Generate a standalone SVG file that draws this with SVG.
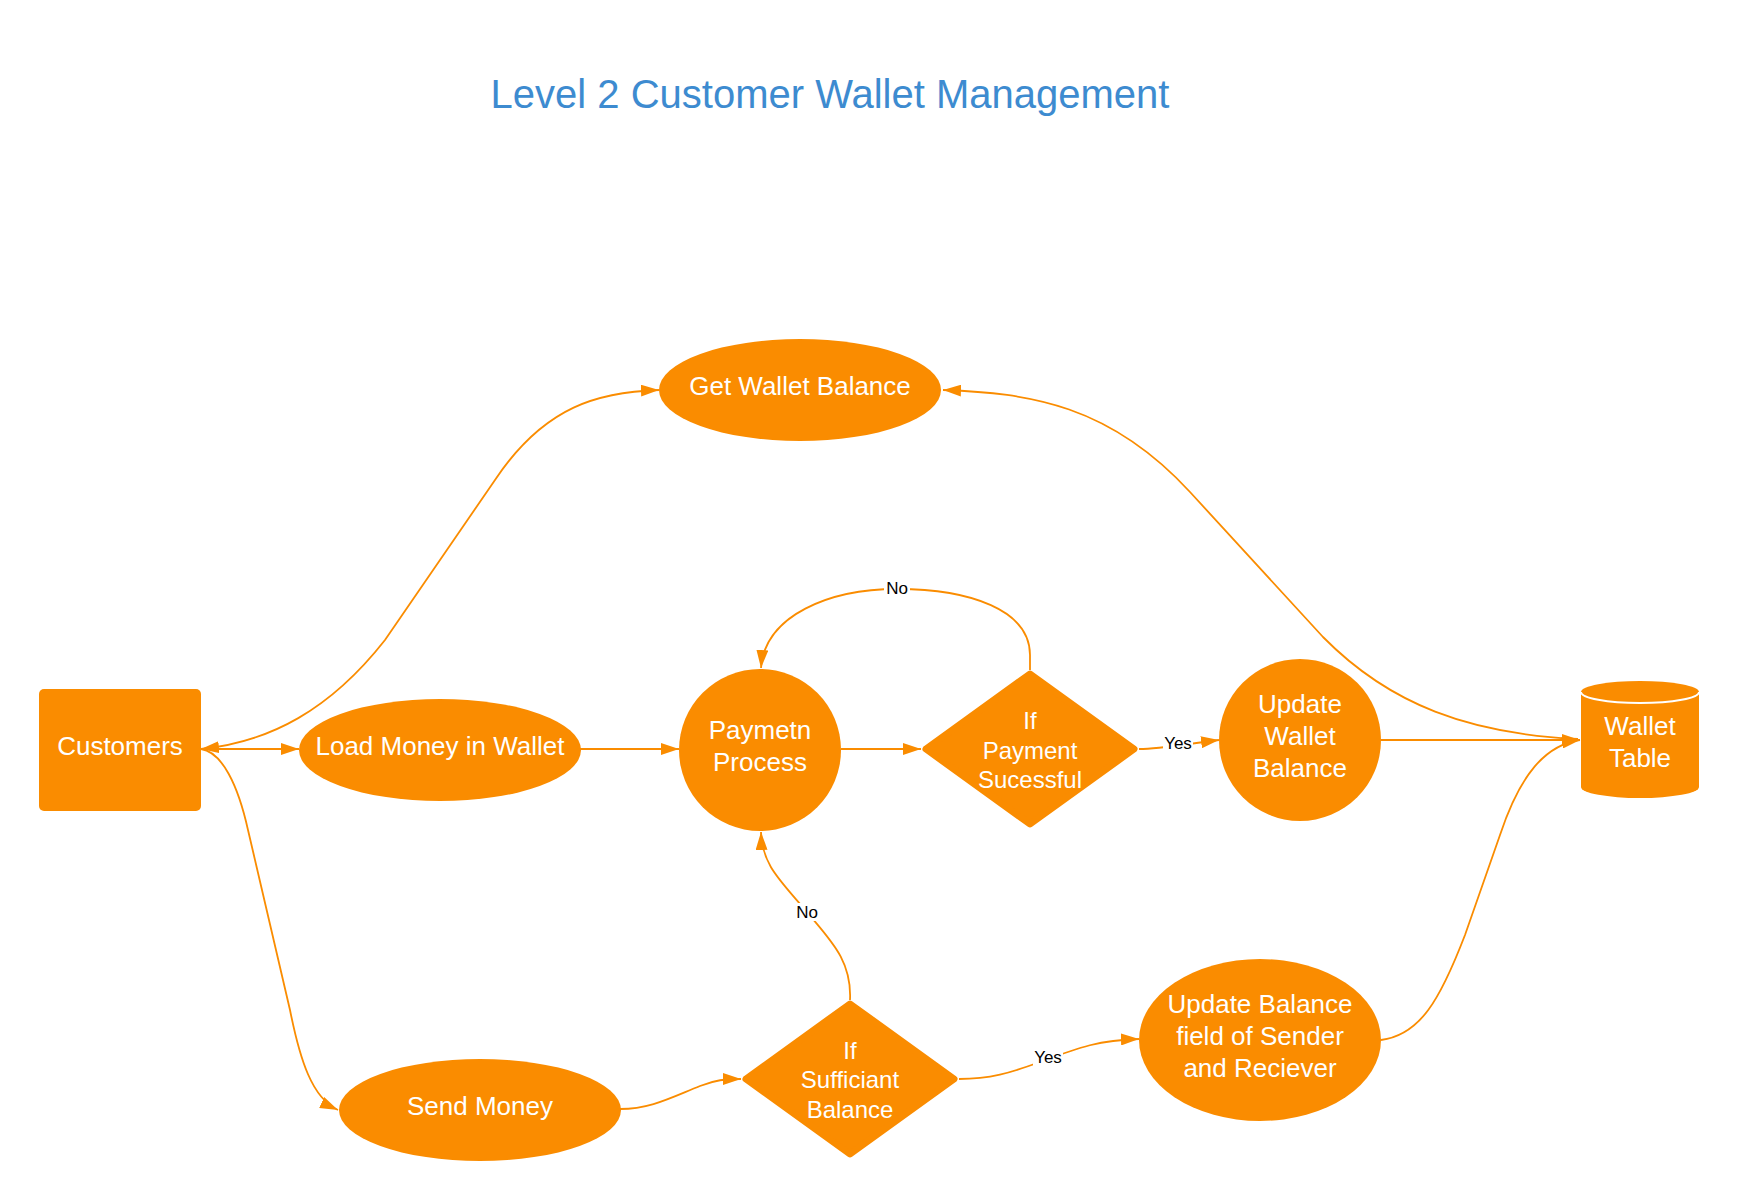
<svg xmlns="http://www.w3.org/2000/svg" width="1740" height="1200" viewBox="0 0 1740 1200">
<style>
.node{fill:#fa8c00}
.dia{fill:#fa8c00;stroke:#fa8c00;stroke-width:7;stroke-linejoin:round}
.t{font-family:"Liberation Sans",Arial,sans-serif;font-size:26px;fill:#ffffff;text-anchor:middle}
.td{font-family:"Liberation Sans",Arial,sans-serif;font-size:24px;fill:#ffffff;text-anchor:middle}
.e{fill:none;stroke:#fa8c00;stroke-width:1.8}
.lbl{font-family:"Liberation Sans",Arial,sans-serif;font-size:17px;fill:#000000;text-anchor:middle}
.lblbg{fill:#ffffff}
.title{font-family:"Liberation Sans",Arial,sans-serif;font-size:40px;fill:#3d8bd0;text-anchor:middle}
</style>
<defs>
<marker id="arr" viewBox="0 0 18 12" refX="18" refY="6" markerWidth="18" markerHeight="12" markerUnits="userSpaceOnUse" orient="auto-start-reverse">
<path d="M0,0 L18,6 L0,12 z" fill="#fa8c00"/>
</marker>
</defs>
<rect width="1740" height="1200" fill="#ffffff"/>
<text class="title" x="830" y="108">Level 2 Customer Wallet Management</text>

<g id="connectors">
<path class="e" d="M 201 749 C 270 742, 330 710, 385 640 L 495 480 C 545 405, 600 392, 659 390" marker-start="url(#arr)" marker-end="url(#arr)"/>
<path class="e" d="M 201 749 L 299 749" marker-end="url(#arr)"/>
<path class="e" d="M 201 749 C 222 752, 238 785, 248 830 L 290 1010 C 300 1060, 312 1098, 338 1110" marker-end="url(#arr)"/>
<path class="e" d="M 580 749 L 679 749" marker-end="url(#arr)"/>
<path class="e" d="M 841 749 L 921 749" marker-end="url(#arr)"/>
<path class="e" d="M 1030 670 L 1030 655 C 1030 610, 970 589, 897 589 C 830 589, 765 615, 761 668" marker-end="url(#arr)"/>
<path class="e" d="M 1139 749 C 1160 749, 1180 745, 1219 740" marker-end="url(#arr)"/>
<path class="e" d="M 1381 740 L 1580 740" marker-end="url(#arr)"/>
<path class="e" d="M 1578 739 C 1470 734, 1390 705, 1323 637 L 1190 492 C 1110 405, 1030 393, 943 390" marker-end="url(#arr)"/>
<path class="e" d="M 1381 1040 C 1420 1035, 1440 1000, 1465 935 L 1500 835 C 1520 775, 1545 745, 1580 740" marker-end="url(#arr)"/>
<path class="e" d="M 620 1109 C 650 1109, 670 1098, 700 1086 C 715 1080, 725 1079, 741 1079" marker-end="url(#arr)"/>
<path class="e" d="M 850 1000 C 852 960, 830 940, 807 912 C 780 880, 762 865, 761 832" marker-end="url(#arr)"/>
<path class="e" d="M 959 1079 C 990 1079, 1010 1073, 1040 1062 C 1080 1047, 1100 1040, 1139 1039" marker-end="url(#arr)"/>
<g id="labels">
<rect class="lblbg" x="884" y="579" width="26" height="18"/>
<text class="lbl" x="897" y="594">No</text>
<rect class="lblbg" x="1163" y="734" width="30" height="18"/>
<text class="lbl" x="1178" y="749">Yes</text>
<rect class="lblbg" x="794" y="903" width="26" height="18"/>
<text class="lbl" x="807" y="918">No</text>
<rect class="lblbg" x="1033" y="1048" width="30" height="18"/>
<text class="lbl" x="1048" y="1063">Yes</text>
</g>
</g>

<g id="customers">
<rect class="node" x="39" y="689" width="162" height="122" rx="5"/>
<text class="t" x="120" y="755">Customers</text>
</g>
<g id="get-wallet-balance">
<ellipse class="node" cx="800" cy="390" rx="141" ry="51"/>
<text class="t" x="800" y="395">Get Wallet Balance</text>
</g>
<g id="load-money">
<ellipse class="node" cx="440" cy="750" rx="141" ry="51"/>
<text class="t" x="440" y="755">Load Money in Wallet</text>
</g>
<g id="payment-process">
<circle class="node" cx="760" cy="750" r="81"/>
<text class="t" x="760" y="739">Paymetn</text>
<text class="t" x="760" y="771">Process</text>
</g>
<g id="if-payment-successful">
<polygon class="dia" points="1030,674 1134,749 1030,824 926,749"/>
<text class="td" x="1030" y="729">If</text>
<text class="td" x="1030" y="759">Payment</text>
<text class="td" x="1030" y="788">Sucessful</text>
</g>
<g id="update-wallet-balance">
<circle class="node" cx="1300" cy="740" r="81"/>
<text class="t" x="1300" y="713">Update</text>
<text class="t" x="1300" y="745">Wallet</text>
<text class="t" x="1300" y="777">Balance</text>
</g>
<g id="wallet-table">
<path class="node" d="M 1581 692 A 59 11 0 0 1 1699 692 L 1699 787 A 59 11 0 0 1 1581 787 Z"/>
<path d="M 1581 692 A 59 11 0 0 0 1699 692" fill="none" stroke="#ffffff" stroke-width="2"/>
<text class="t" x="1640" y="735">Wallet</text>
<text class="t" x="1640" y="767">Table</text>
</g>
<g id="send-money">
<ellipse class="node" cx="480" cy="1110" rx="141" ry="51"/>
<text class="t" x="480" y="1115">Send Money</text>
</g>
<g id="if-sufficient-balance">
<polygon class="dia" points="850,1004 954,1079 850,1154 746,1079"/>
<text class="td" x="850" y="1059">If</text>
<text class="td" x="850" y="1088">Sufficiant</text>
<text class="td" x="850" y="1118">Balance</text>
</g>
<g id="update-balance-sender-receiver">
<ellipse class="node" cx="1260" cy="1040" rx="121" ry="81"/>
<text class="t" x="1260" y="1013">Update Balance</text>
<text class="t" x="1260" y="1045">field of Sender</text>
<text class="t" x="1260" y="1077">and Reciever</text>
</g>
</svg>
